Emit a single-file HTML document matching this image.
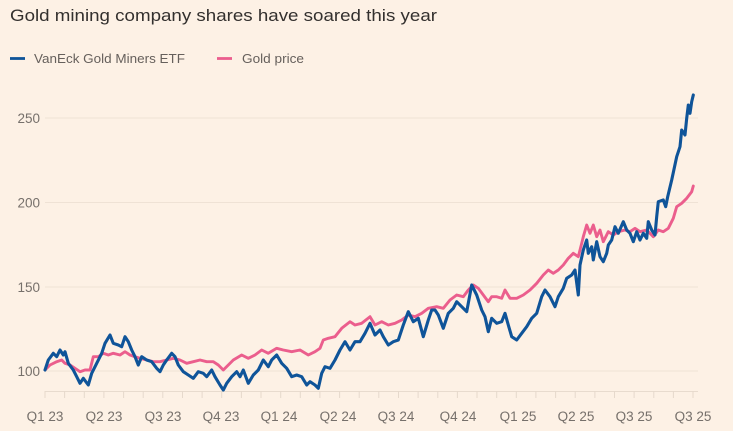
<!DOCTYPE html>
<html><head><meta charset="utf-8"><style>
html,body{margin:0;padding:0;background:#fdf1e5;}
svg{display:block;}
text{font-family:"Liberation Sans",sans-serif;}
</style></head><body>
<svg width="733" height="431" viewBox="0 0 733 431" xmlns="http://www.w3.org/2000/svg">
<rect width="733" height="431" fill="#fdf1e5"/>
<text x="10" y="21" font-size="17" fill="#33302e" textLength="427" lengthAdjust="spacingAndGlyphs">Gold mining company shares have soared this year</text>
<line x1="10" y1="58.5" x2="25" y2="58.5" stroke="#0f5499" stroke-width="2.8"/>
<text x="34" y="63" font-size="12.5" fill="#66605c" textLength="151" lengthAdjust="spacingAndGlyphs">VanEck Gold Miners ETF</text>
<line x1="217" y1="58.5" x2="232" y2="58.5" stroke="#eb5e8d" stroke-width="2.8"/>
<text x="242" y="63" font-size="12.5" fill="#66605c" textLength="62" lengthAdjust="spacingAndGlyphs">Gold price</text>
<g stroke="#efe2d5" stroke-width="1">
<line x1="45" y1="118" x2="698" y2="118"/>
<line x1="45" y1="202.5" x2="698" y2="202.5"/>
<line x1="45" y1="287" x2="698" y2="287"/>
<line x1="45" y1="371" x2="698" y2="371"/>
<line x1="45" y1="391.5" x2="698" y2="391.5" stroke="#e8dbce"/>
</g>
<g fill="#76706b" font-size="13.5" text-anchor="end">
<text x="40" y="123">250</text>
<text x="40" y="207.5">200</text>
<text x="40" y="292">150</text>
<text x="40" y="376">100</text>
</g>
<g stroke="#e6d9cc" stroke-width="1">
<line x1="45" y1="391" x2="45" y2="398"/><line x1="64.6" y1="391" x2="64.6" y2="398"/><line x1="84.3" y1="391" x2="84.3" y2="398"/><line x1="103.9" y1="391" x2="103.9" y2="398"/><line x1="123.6" y1="391" x2="123.6" y2="398"/><line x1="143.2" y1="391" x2="143.2" y2="398"/><line x1="162.8" y1="391" x2="162.8" y2="398"/><line x1="182.5" y1="391" x2="182.5" y2="398"/><line x1="202.1" y1="391" x2="202.1" y2="398"/><line x1="221.7" y1="391" x2="221.7" y2="398"/><line x1="241.4" y1="391" x2="241.4" y2="398"/><line x1="261" y1="391" x2="261" y2="398"/><line x1="280.7" y1="391" x2="280.7" y2="398"/><line x1="300.3" y1="391" x2="300.3" y2="398"/><line x1="319.9" y1="391" x2="319.9" y2="398"/><line x1="339.6" y1="391" x2="339.6" y2="398"/><line x1="359.2" y1="391" x2="359.2" y2="398"/><line x1="378.8" y1="391" x2="378.8" y2="398"/><line x1="398.5" y1="391" x2="398.5" y2="398"/><line x1="418.1" y1="391" x2="418.1" y2="398"/><line x1="437.8" y1="391" x2="437.8" y2="398"/><line x1="457.4" y1="391" x2="457.4" y2="398"/><line x1="477" y1="391" x2="477" y2="398"/><line x1="496.7" y1="391" x2="496.7" y2="398"/><line x1="516.3" y1="391" x2="516.3" y2="398"/><line x1="535.9" y1="391" x2="535.9" y2="398"/><line x1="555.6" y1="391" x2="555.6" y2="398"/><line x1="575.2" y1="391" x2="575.2" y2="398"/><line x1="594.9" y1="391" x2="594.9" y2="398"/><line x1="614.5" y1="391" x2="614.5" y2="398"/><line x1="634.1" y1="391" x2="634.1" y2="398"/><line x1="653.8" y1="391" x2="653.8" y2="398"/><line x1="673.4" y1="391" x2="673.4" y2="398"/><line x1="693" y1="391" x2="693" y2="398"/>
</g>
<g fill="#76706b" font-size="13.5" text-anchor="middle">
<text x="45" y="421">Q1 23</text>
<text x="104" y="421">Q2 23</text>
<text x="163" y="421">Q3 23</text>
<text x="221" y="421">Q4 23</text>
<text x="279" y="421">Q1 24</text>
<text x="338" y="421">Q2 24</text>
<text x="396" y="421">Q3 24</text>
<text x="458" y="421">Q4 24</text>
<text x="518" y="421">Q1 25</text>
<text x="576" y="421">Q2 25</text>
<text x="634" y="421">Q3 25</text>
<text x="693" y="421">Q3 25</text>
</g>
<polyline fill="none" stroke="#eb5e8d" stroke-width="2.9" stroke-linejoin="round" stroke-linecap="round" points="45,370 50,365 56.7,361.7 61.7,360 65,363.3 70,365 75,368.3 80,371.7 85,370 90,370 93.3,356.7 98.3,356.7 103.3,353.3 108.3,355 113.3,353.3 120,355 125,351.7 130,355 135,356.7 140,358.3 146.7,360 153.3,361.7 160,361.7 166.7,360 173.3,358.3 180,360 186.7,363.3 193.3,361.7 200,360 206.7,361.7 213.3,361.7 218.3,365 223.3,370 228.3,365 233.3,360 241.7,355 248.3,358.3 255,355 261.7,350 268.3,353.3 276.7,348.3 283.3,350 291.7,351.7 300,350 308.3,355 315,351.7 320,348.3 323.3,340 328.3,338.3 335,336.7 341.7,328.3 350,321.7 355,325 361.7,323.3 370,316.7 375,325 381.7,321.7 388.3,325 395,323.3 401.7,320 408.3,315 415,316.7 421.7,313.3 428.3,308.3 436.7,306.7 443.3,308.3 450,300 456.7,295 463.3,296.7 468.3,290 473.3,285 478.3,288.3 483.3,295 488.3,301.7 491.7,296.7 496.7,296.7 501.7,298.3 505,290 510,298.3 516.7,298.3 523.3,295 530,290 536.7,283.3 543.3,275 548.3,270 553.3,273.3 558.3,270 563.3,265 568.3,258.3 573.3,253.3 578.3,256.7 581.7,243.3 583.3,236.7 586.7,225 590,233.3 593.3,225 596.7,236.7 600,230 603.3,241.7 608.3,231.7 613.3,235 618.3,231.7 625,230 630,231.7 635,228.3 640,231.7 646.7,230 653.3,236.7 658.3,230 663.3,231.7 668.3,228.3 673.3,218.3 676.7,206.7 681.7,203.3 686.7,198.3 691.7,191.7 693.3,186"/>
<polyline fill="none" stroke="#0f5499" stroke-width="3.1" stroke-linejoin="round" stroke-linecap="round" points="45,370 48.3,360 53.3,353.3 56.7,356.7 60,350 63.3,355 65,351.7 68.3,363.3 73.3,370 76.7,376.7 80,383.3 83.3,378.3 88.3,385 91.7,373.3 96.7,363.3 101.7,353.3 105,343.3 110,335 113.3,343.3 118.3,345 121.7,346.7 125,336.7 128.3,341.7 131.7,350 135,356.7 138.3,365 141.7,356.7 146.7,360 151.7,361.7 156.7,368.3 160,371.7 163.3,365 166.7,360 171.7,353.3 175,356.7 178.3,365 183.3,371.7 188.3,375 193.3,378.3 198.3,371.7 203.3,373.3 206.7,376.7 211.7,370 215,376.7 220,385 223.3,390 226.7,383.3 231.7,376.7 236.7,371.7 240,376.7 243.3,370 248.3,383.3 253.3,375 258.3,370 263.3,360 268.3,366.7 271.7,360 276.7,355 281.7,363.3 286.7,368.3 291.7,376.7 296.7,375 301.7,376.7 306.7,385 310,381.7 315,385 318.3,388.3 321.7,373.3 325,366.7 330,368.3 335,360 340,350 345,341.7 350,350 355,341.7 360,341.7 365,333.3 370,323.3 375,335 380,330 383.3,336.7 388.3,345 393.3,341.7 398.3,340 403.3,325 408.3,311.7 413.3,321.7 418.3,318.3 423.3,336.7 428.3,320 431.7,310 435,310 438.3,315 443.3,328.3 448.3,313.3 453.3,308.3 456.7,301.7 461.7,306.7 466.7,311.7 471.7,285 476.7,295 481.7,310 485,316.7 488.3,331.7 491.7,318.3 496.7,323.3 501.7,321.7 505,313.3 508.3,325 511.7,336.7 516.7,340 521.7,333.3 526.7,326.7 531.7,318.3 536.7,313.3 541.7,296.7 545,290 550,296.7 555,306.7 558.3,296.7 563.3,288.3 566.7,278.3 571.7,275 575,270 578.3,295 580,265 583.3,250 586.7,240 588.3,253.3 591.7,246.7 593.3,260 596.7,241.7 600,256.7 603.3,261.7 606.7,253.3 608.3,245 611.7,240 615,226.7 618.3,233.3 623.3,221.7 626.7,230 630,233.3 633.3,241.7 636.7,231.7 640,240 643.3,233.3 646.7,238.3 648.3,221.7 651.7,230 655,235 656.7,216.7 658.3,201.7 663.3,200 665.7,206.7 667.7,196.7 671.7,180 676.7,156.7 680,146.7 681.7,130 685,135 686.7,118.3 688.3,105 690,113.3 691.7,101.7 693.3,95"/>
</svg>
</body></html>
